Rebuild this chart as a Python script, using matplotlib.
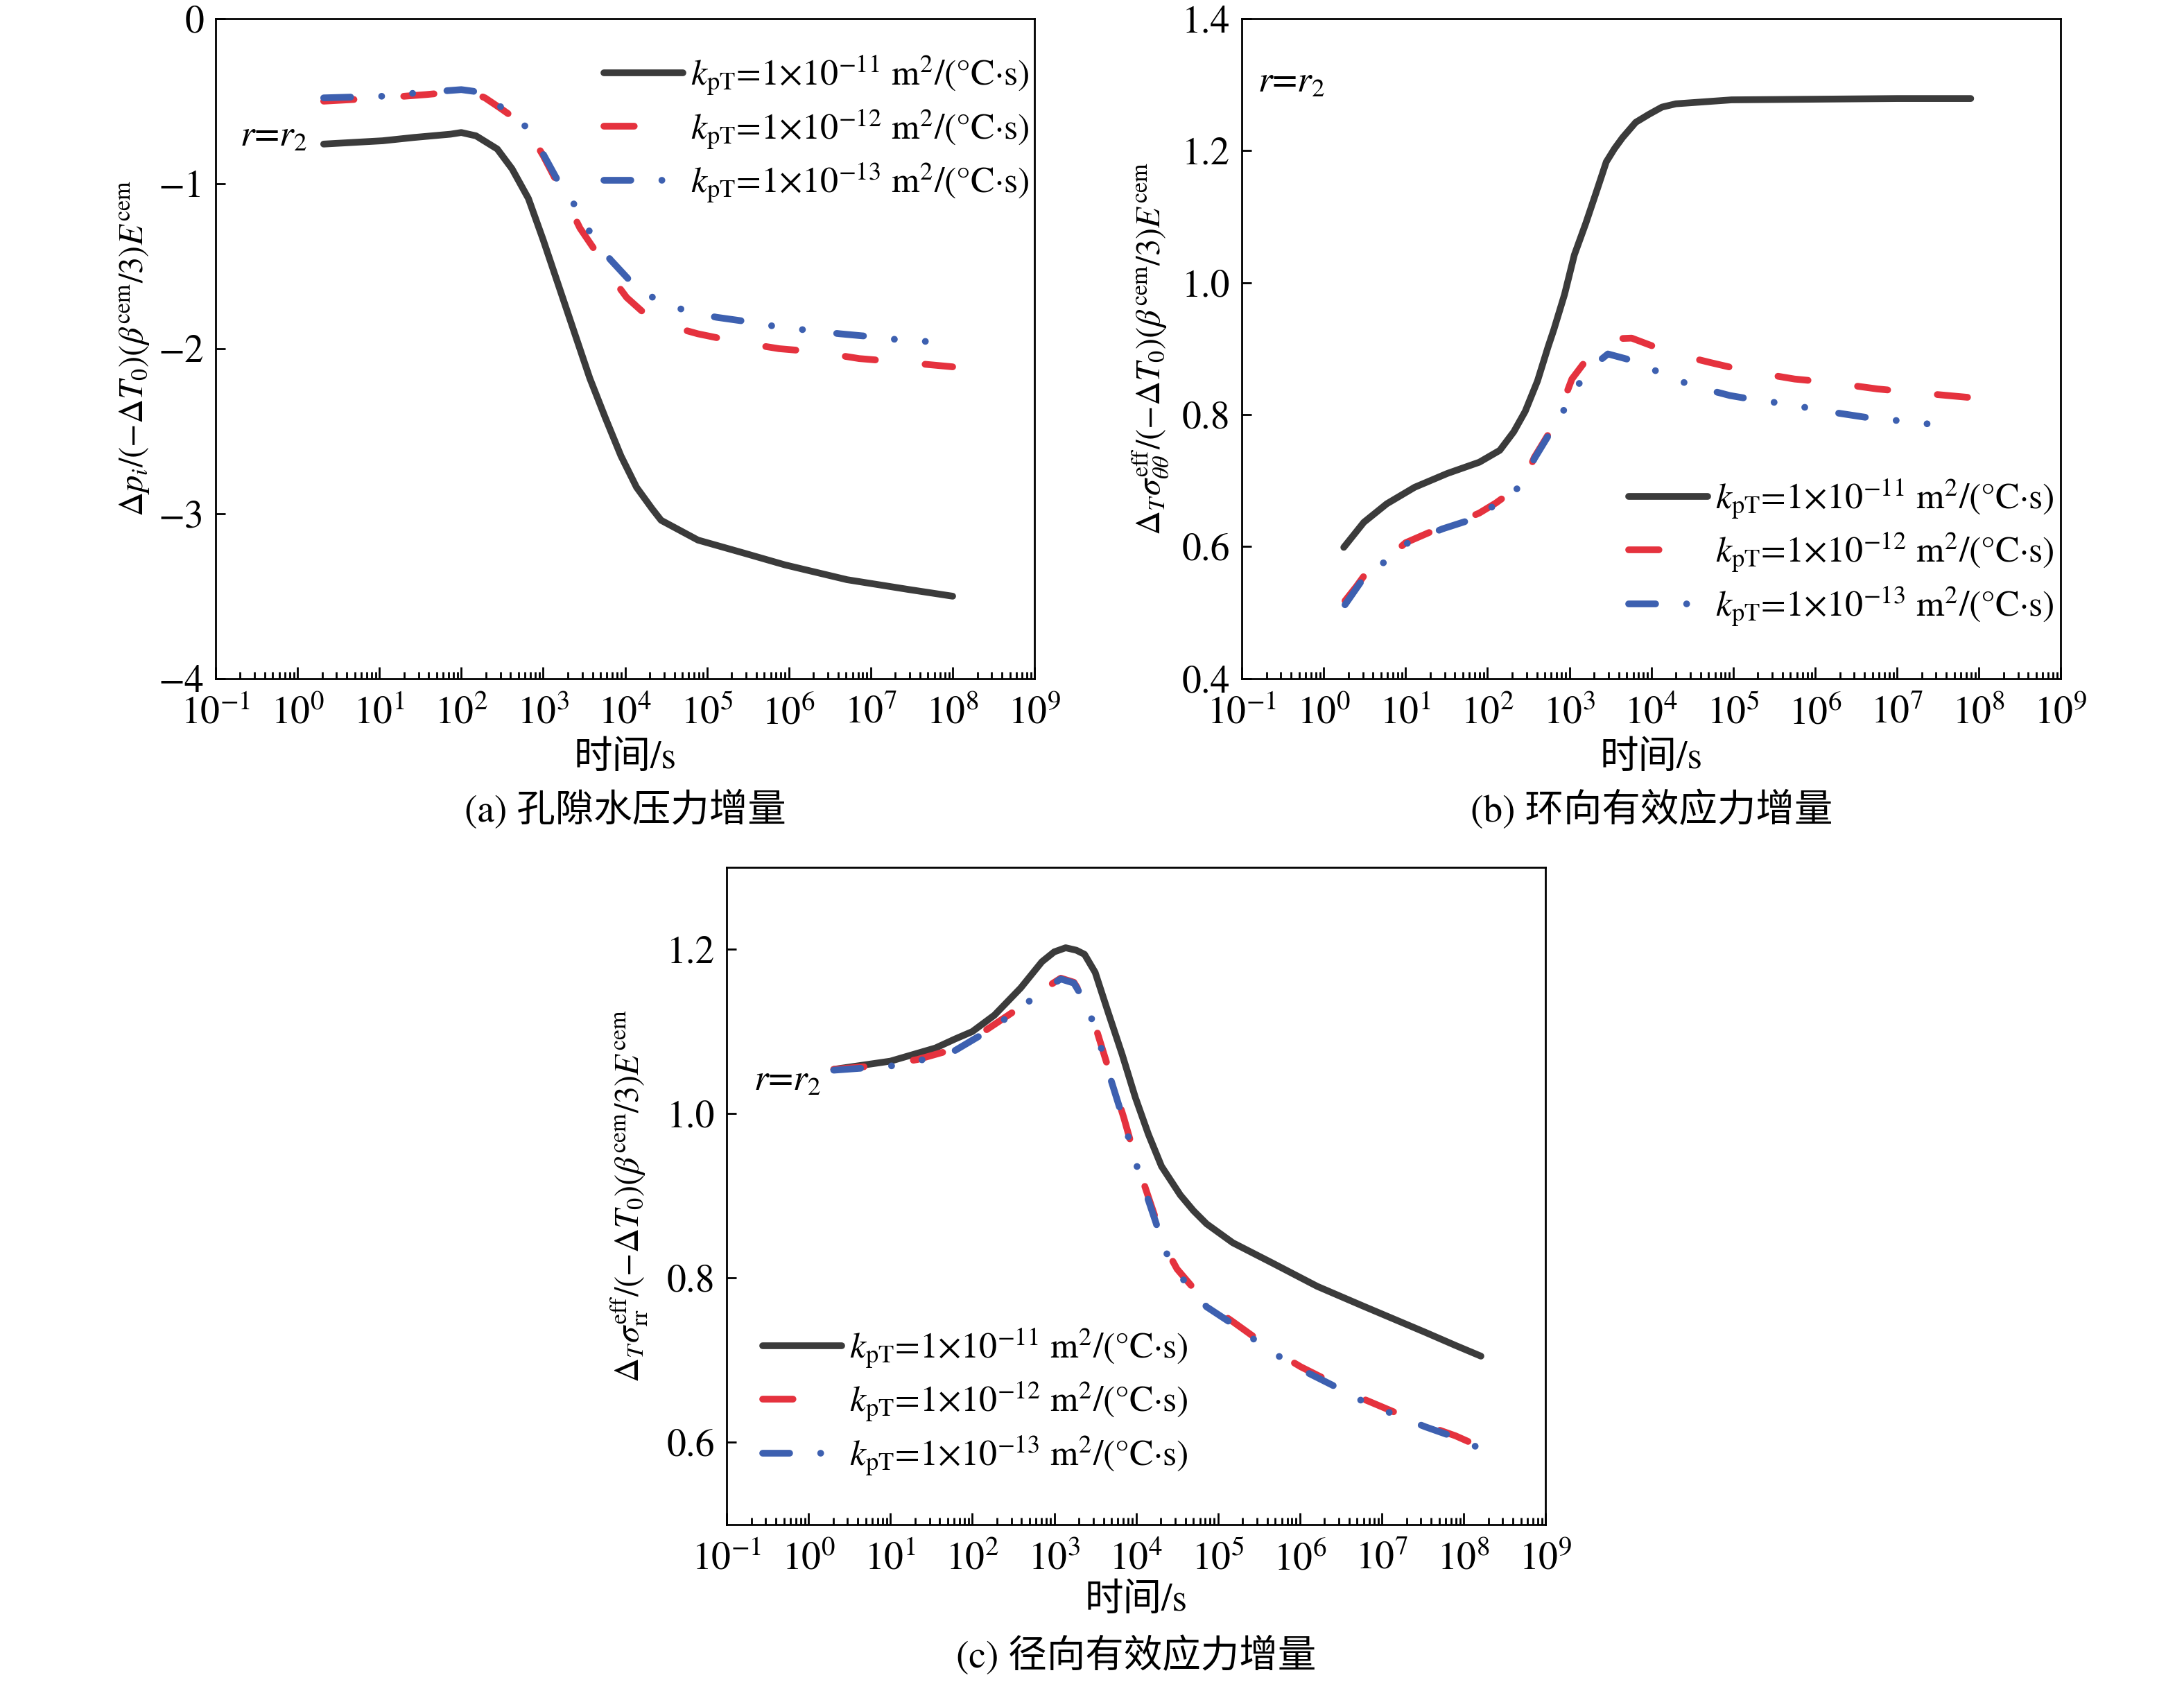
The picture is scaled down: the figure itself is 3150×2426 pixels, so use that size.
import numpy as np
import matplotlib
matplotlib.use('Agg')
import matplotlib.pyplot as plt
from matplotlib.ticker import LogLocator, NullFormatter, FixedLocator

plt.rcParams['font.family'] = ['STIXGeneral', 'Noto Sans CJK SC']
plt.rcParams['mathtext.fontset'] = 'stix'
plt.rcParams['axes.unicode_minus'] = True

# 图例
labels = [r'$k_{\rm pT}$=1×10$^{-11}$ m$^2$/(°C·s)',
          r'$k_{\rm pT}$=1×10$^{-12}$ m$^2$/(°C·s)',
          r'$k_{\rm pT}$=1×10$^{-13}$ m$^2$/(°C·s)']
x_ticks = [-1, 0, 1, 2, 3, 4, 5, 6, 7, 8, 9]

# (a) 孔隙水压力增量, x = log10(t/s)
a_t11 = [0.32, 1.04, 1.42, 1.87, 2.0, 2.18, 2.44, 2.62, 2.82, 3.0, 3.19, 3.38, 3.57, 3.76,
         3.95, 4.14, 4.33, 4.44, 4.59, 4.89, 5.46, 5.95, 6.71, 7.47, 8.0]
a_y11 = [-0.76, -0.74, -0.72, -0.70, -0.69, -0.71, -0.79, -0.91, -1.09, -1.34, -1.62, -1.90,
         -2.18, -2.42, -2.65, -2.84, -2.97, -3.04, -3.08, -3.16, -3.24, -3.31, -3.40, -3.46, -3.50]
a_t12 = [0.32, 1.04, 1.57, 2.0, 2.15, 2.29, 2.47, 2.67, 2.82, 3.0, 3.21, 3.45, 3.71, 3.87,
         4.02, 4.2, 4.37, 4.6, 4.89, 5.38, 5.88, 6.35, 6.86, 7.35, 8.0]
a_y12 = [-0.50, -0.48, -0.46, -0.44, -0.45, -0.48, -0.54, -0.61, -0.68, -0.83, -1.03, -1.27,
         -1.46, -1.59, -1.69, -1.77, -1.82, -1.87, -1.91, -1.96, -2.00, -2.02, -2.06, -2.08, -2.11]
a_t13 = [0.32, 1.04, 1.46, 2.0, 2.15, 2.29, 2.47, 2.67, 2.82, 3.0, 3.21, 3.40, 3.60, 3.82,
         4.10, 4.40, 4.80, 5.12, 5.55, 5.89, 6.27, 6.63, 7.07, 7.41, 7.85]
a_y13 = [-0.48, -0.47, -0.45, -0.43, -0.44, -0.47, -0.53, -0.60, -0.67, -0.82, -1.01, -1.14,
         -1.32, -1.46, -1.61, -1.71, -1.78, -1.81, -1.84, -1.87, -1.89, -1.91, -1.93, -1.95, -1.96]
a_yticks = [0, -1, -2, -3, -4]
a_ylabels = ['0', '−1', '−2', '−3', '−4']

# (b) 环向有效应力增量
b_t11 = [0.245, 0.49, 0.77, 1.11, 1.51, 1.90, 2.15, 2.32, 2.46, 2.61, 2.74, 2.81, 2.94, 3.06,
         3.20, 3.33, 3.45, 3.55, 3.65, 3.81, 3.97, 4.13, 4.30, 4.98, 6.0, 7.0, 7.9]
b_y11 = [0.599, 0.637, 0.665, 0.690, 0.711, 0.728, 0.746, 0.774, 0.805, 0.851, 0.903, 0.929,
         0.982, 1.042, 1.090, 1.138, 1.183, 1.203, 1.220, 1.243, 1.255, 1.266, 1.271, 1.277,
         1.278, 1.279, 1.279]
b_t12 = [0.26, 0.40, 0.54, 0.79, 1.0, 1.39, 1.62, 1.90, 2.10, 2.29, 2.45, 2.57, 2.83, 3.03,
         3.31, 3.55, 3.76, 4.23, 4.72, 5.17, 5.75, 6.17, 6.76, 7.18, 7.89]
b_y12 = [0.518, 0.540, 0.564, 0.584, 0.606, 0.627, 0.636, 0.651, 0.666, 0.683, 0.700, 0.735,
         0.788, 0.854, 0.900, 0.915, 0.916, 0.894, 0.879, 0.866, 0.854, 0.849, 0.839, 0.834, 0.826]
b_t13 = [0.26, 0.54, 0.79, 1.0, 1.45, 1.85, 2.10, 2.45, 2.57, 2.83, 3.0, 3.2, 3.47, 3.86,
         4.2, 4.59, 4.96, 5.29, 5.67, 6.09, 6.67, 7.18, 7.58]
b_y13 = [0.512, 0.562, 0.580, 0.604, 0.627, 0.643, 0.664, 0.696, 0.733, 0.786, 0.821, 0.865,
         0.892, 0.879, 0.857, 0.841, 0.829, 0.822, 0.816, 0.806, 0.795, 0.789, 0.783]
b_yticks = [0.4, 0.6, 0.8, 1.0, 1.2, 1.4]
b_ylabels = ['0.4', '0.6', '0.8', '1.0', '1.2', '1.4']

# (c) 径向有效应力增量
c_t11 = [0.308, 1.0, 1.55, 1.79, 2.0, 2.27, 2.59, 2.85, 3.0, 3.14, 3.27, 3.37, 3.50, 3.66,
         3.83, 3.99, 4.15, 4.31, 4.54, 4.70, 4.86, 5.18, 5.67, 6.21, 6.77, 7.15, 7.53, 7.90, 8.21]
c_y11 = [1.054, 1.064, 1.080, 1.091, 1.100, 1.120, 1.153, 1.185, 1.197, 1.202, 1.199, 1.194,
         1.172, 1.123, 1.072, 1.020, 0.975, 0.936, 0.901, 0.882, 0.866, 0.843, 0.818, 0.790,
         0.766, 0.750, 0.734, 0.718, 0.705]
c_t12 = [0.308, 1.0, 1.33, 1.79, 2.11, 2.59, 2.80, 3.08, 3.24, 3.39, 3.51, 3.69, 3.85, 3.99,
         4.24, 4.34, 4.50, 4.86, 5.18, 5.64, 6.01, 6.39, 6.77, 7.15, 7.53, 7.90, 8.17]
c_y12 = [1.054, 1.060, 1.066, 1.079, 1.098, 1.130, 1.147, 1.165, 1.160, 1.136, 1.104, 1.046,
         0.995, 0.946, 0.872, 0.840, 0.811, 0.769, 0.747, 0.714, 0.692, 0.673, 0.653, 0.637,
         0.621, 0.608, 0.596]
c_t13 = [0.308, 1.0, 1.33, 1.79, 2.11, 2.59, 2.80, 3.08, 3.24, 3.39, 3.51, 3.69, 3.85, 3.99,
         4.24, 4.34, 4.50, 4.86, 5.18, 5.64, 6.01, 6.39, 6.77, 7.15, 7.53, 7.90, 8.17]
c_y13 = [1.053, 1.058, 1.064, 1.077, 1.096, 1.128, 1.146, 1.164, 1.159, 1.134, 1.101, 1.042,
         0.991, 0.942, 0.868, 0.836, 0.807, 0.765, 0.744, 0.711, 0.689, 0.670, 0.650, 0.634,
         0.619, 0.606, 0.594]
c_yticks = [0.6, 0.8, 1.0, 1.2]
c_ylabels = ['0.6', '0.8', '1.0', '1.2']

black = '#3b3b3b'
red = '#e5323e'
blue = '#3d60b0'
lw = 3.5
fs = 20

fig = plt.figure(figsize=(15.75, 12.13), dpi=200)
ax_a = fig.add_axes([0.0987, 0.5965, 0.375, 0.3924])
ax_b = fig.add_axes([0.5686, 0.5965, 0.375, 0.3924])
ax_c = fig.add_axes([0.3327, 0.0936, 0.375, 0.3908])


def draw(ax, series, ylim, yticks, ylabels, ylab, ylab_x, r_xy, leg_loc, leg_anchor,
         xlab_y, caption, cap_y):
    styles = [dict(color=black, ls='-'),
              dict(color=red, dashes=(4.5, 7.4)),
              dict(color=blue, dashes=(4.0, 4.6, 0.01, 4.6, 0.01, 5.1))]
    for (t, y), st, lab in zip(series, styles, labels):
        ax.plot(10.0 ** np.array(t), y, lw=lw, label=lab, solid_capstyle='round',
                dash_capstyle='round', solid_joinstyle='round', **st)
    ax.set_xscale('log')
    ax.set_xlim(1e-1, 1e9)
    ax.set_ylim(*ylim)
    ax.xaxis.set_major_locator(FixedLocator([10.0 ** k for k in x_ticks]))
    ax.set_xticklabels([r'$10^{%d}$' % k for k in x_ticks])
    ax.xaxis.set_minor_locator(LogLocator(base=10, subs=np.arange(2, 10), numticks=20))
    ax.xaxis.set_minor_formatter(NullFormatter())
    ax.set_yticks(yticks)
    ax.set_yticklabels(ylabels)
    ax.tick_params(axis='both', which='both', direction='in', top=False, right=False,
                   labelsize=fs, width=1.0)
    ax.tick_params(axis='x', which='major', length=6, pad=9)
    ax.tick_params(axis='x', which='minor', length=3.5)
    ax.tick_params(axis='y', which='major', length=5, pad=6)
    for s in ax.spines.values():
        s.set_linewidth(1.0)
    ax.text(ylab_x, 0.5, ylab, transform=ax.transAxes, rotation=90, ha='center',
            va='center', fontsize=17.5)
    ax.text(r_xy[0], r_xy[1], r'$r$=$r_2$', transform=ax.transAxes, fontsize=19,
            ha='left', va='baseline')
    ax.legend(loc=leg_loc, bbox_to_anchor=leg_anchor, frameon=False, fontsize=18.7,
              handlelength=2.2, handletextpad=0.2, labelspacing=0.28, borderpad=0,
              borderaxespad=0)
    bb = ax.get_position()
    cx = (bb.x0 + bb.x1) / 2
    fig.text(cx, xlab_y, '时间/s', ha='center', va='center', fontsize=fs)
    fig.text(cx, cap_y, caption, ha='center', va='center', fontsize=fs)


draw(ax_a, [(a_t11, a_y11), (a_t12, a_y12), (a_t13, a_y13)], (-4, 0), a_yticks, a_ylabels,
     r'$\Delta p_i/(-\Delta T_0)(\beta^{\rm cem}/3)E^{\rm cem}$', -0.098, (0.03, 0.807),
     'upper right', (0.993, 0.947), 1 - 1095 / 2426, '(a) 孔隙水压力增量', 1 - 1168 / 2426)
draw(ax_b, [(b_t11, b_y11), (b_t12, b_y12), (b_t13, b_y13)], (0.4, 1.4), b_yticks, b_ylabels,
     r'$\Delta_T\sigma_{\theta\theta}^{\rm eff}/(-\Delta T_0)(\beta^{\rm cem}/3)E^{\rm cem}$',
     -0.111, (0.019, 0.889), 'lower right', (0.991, 0.077), 1 - 1095 / 2426,
     '(b) 环向有效应力增量', 1 - 1168 / 2426)
draw(ax_c, [(c_t11, c_y11), (c_t12, c_y12), (c_t13, c_y13)], (0.5, 1.3), c_yticks, c_ylabels,
     r'$\Delta_T\sigma_{\rm rr}^{\rm eff}/(-\Delta T_0)(\beta^{\rm cem}/3)E^{\rm cem}$',
     -0.119, (0.033, 0.66), 'lower left', (0.044, 0.072), 1 - 2310 / 2426,
     '(c) 径向有效应力增量', 1 - 2388 / 2426)

fig.savefig('out.png', dpi=200)
